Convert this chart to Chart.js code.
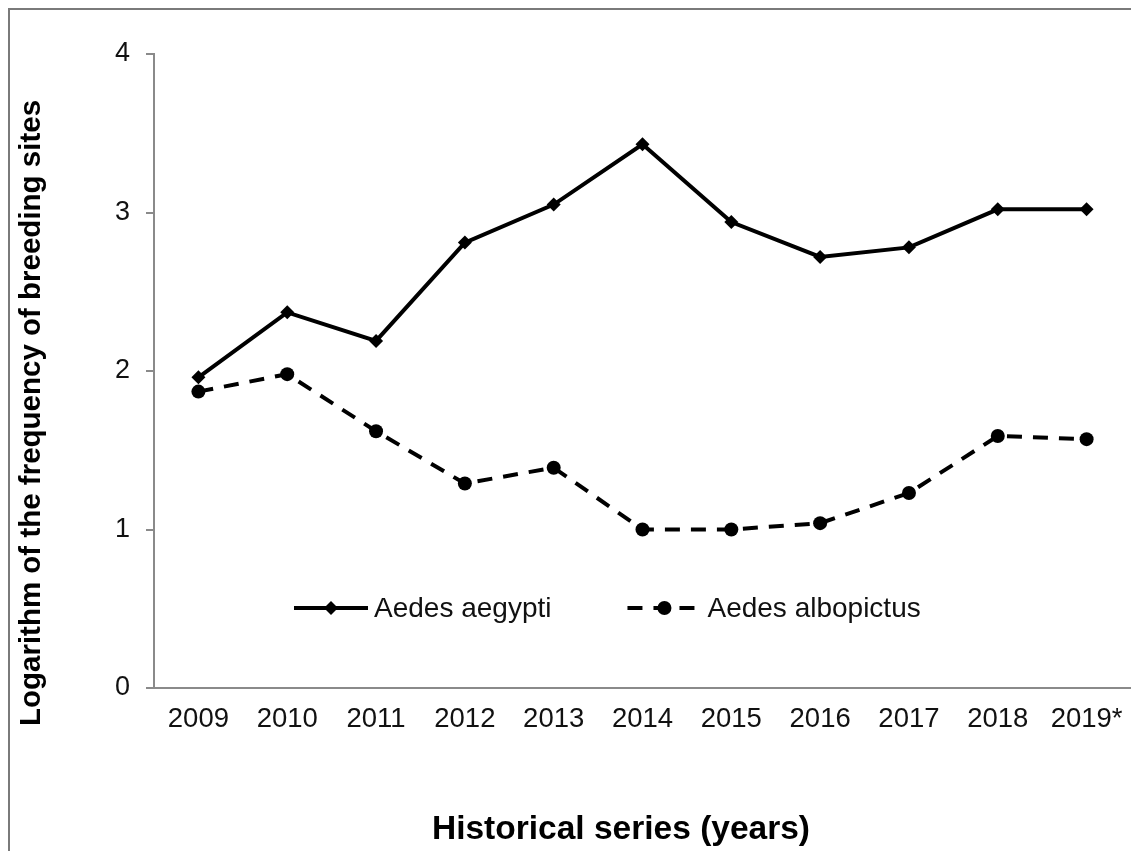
<!DOCTYPE html>
<html>
<head>
<meta charset="utf-8">
<script src="https://cdn.jsdelivr.net/npm/chart.js@4.4.1/dist/chart.umd.min.js"></script>
<style>
    html, body { margin: 0; padding: 0; background: #fff; }
    #wrap { width: 1131px; height: 851px; position: relative; }
</style>
</head>
<body>
<div id="wrap"><canvas id="chart"></canvas></div>
<script>
// datos
const years = ['2009', '2010', '2011', '2012', '2013', '2014', '2015', '2016', '2017', '2018', '2019*'];
const aegypti = [1.96, 2.37, 2.19, 2.81, 3.05, 3.43, 2.94, 2.72, 2.78, 3.02, 3.02];
const albopictus = [1.87, 1.98, 1.62, 1.29, 1.39, 1.00, 1.00, 1.04, 1.23, 1.59, 1.57];
const yTicks = [0, 1, 2, 3, 4];
const yTitle = 'Logarithm of the frequency of breeding sites';
const xTitle = 'Historical series (years)';

const family = "'Liberation Sans', Arial, sans-serif";
const axisGray = '#8a8a8a';

function drawMarker(ctx, style, x, y, r) {
    ctx.beginPath();
    if (style === 'rectRot') {
        ctx.moveTo(x, y - r);
        ctx.lineTo(x + r, y);
        ctx.lineTo(x, y + r);
        ctx.lineTo(x - r, y);
        ctx.closePath();
    } else {
        ctx.arc(x, y, r, 0, Math.PI * 2);
    }
    ctx.fill();
}

// marco, títulos y leyenda
const extras = {
    id: 'extras',
    afterDraw(chart) {
        const ctx = chart.ctx;
        ctx.save();
        ctx.strokeStyle = '#7a7a7a';
        ctx.lineWidth = 2;
        ctx.beginPath();
        ctx.moveTo(9, 851);
        ctx.lineTo(9, 9);
        ctx.lineTo(1131, 9);
        ctx.stroke();

        ctx.fillStyle = '#000';
        ctx.textAlign = 'center';
        ctx.textBaseline = 'middle';
        ctx.font = 'bold 33.5px ' + family;
        ctx.fillText(xTitle, 621, 830);

        ctx.save();
        ctx.translate(32, 413);
        ctx.rotate(-Math.PI / 2);
        ctx.font = 'bold 29.5px ' + family;
        ctx.fillText(yTitle, 0, 0);
        ctx.restore();

        // leyenda dentro del área
        let x = 294;
        const y = 608;
        ctx.font = '28px ' + family;
        ctx.textAlign = 'left';
        chart.data.datasets.forEach(ds => {
            const w = 74;
            ctx.strokeStyle = ds.borderColor;
            ctx.lineWidth = ds.borderWidth;
            ctx.setLineDash(ds.borderDash || []);
            ctx.beginPath();
            ctx.moveTo(x, y);
            ctx.lineTo(x + w, y);
            ctx.stroke();
            ctx.setLineDash([]);
            ctx.fillStyle = ds.pointBackgroundColor;
            drawMarker(ctx, ds.pointStyle, x + w / 2, y, ds.pointRadius);
            ctx.fillStyle = '#111';
            ctx.fillText(ds.label, x + w + 6, y + 1);
            x += w + 6 + ctx.measureText(ds.label).width + 76;
        });
        ctx.restore();
    }
};

new Chart(document.getElementById('chart'), {
    type: 'line',
    data: {
        labels: years,
        datasets: [{
            label: 'Aedes aegypti',
            data: aegypti,
            borderColor: '#000',
            borderWidth: 4,
            pointStyle: 'rectRot',
            pointRadius: 7,
            pointBackgroundColor: '#000',
            pointBorderWidth: 0,
            tension: 0
        }, {
            label: 'Aedes albopictus',
            data: albopictus,
            borderColor: '#000',
            borderWidth: 4,
            borderDash: [15, 11],
            pointStyle: 'circle',
            pointRadius: 7,
            pointBackgroundColor: '#000',
            pointBorderWidth: 0,
            tension: 0
        }]
    },
    options: {
        responsive: true,
        maintainAspectRatio: false,
        animation: false,
        layout: { autoPadding: false, padding: { top: 54, left: 0, right: 0, bottom: 0 } },
        plugins: { legend: { display: false }, tooltip: { enabled: false } },
        scales: {
            x: {
                offset: true,
                afterFit: s => { s.height = 163; s.paddingLeft = 0; s.paddingRight = 0; },
                grid: { display: true, drawOnChartArea: false, drawTicks: false },
                border: { display: true, color: axisGray, width: 2 },
                ticks: { color: '#111', font: { family: family, size: 27.5 }, padding: 15, maxRotation: 0, autoSkip: false }
            },
            y: {
                min: 0,
                max: 4,
                afterFit: s => { s.width = 154; },
                afterBuildTicks: s => { s.ticks = yTicks.map(v => ({ value: v })); },
                grid: { drawOnChartArea: false, drawTicks: true, tickLength: 8, color: axisGray, lineWidth: 2 },
                border: { display: true, color: axisGray, width: 2 },
                ticks: { color: '#111', font: { family: family, size: 27 }, padding: 16 }
            }
        }
    },
    plugins: [extras]
});
</script>
</body>
</html>
